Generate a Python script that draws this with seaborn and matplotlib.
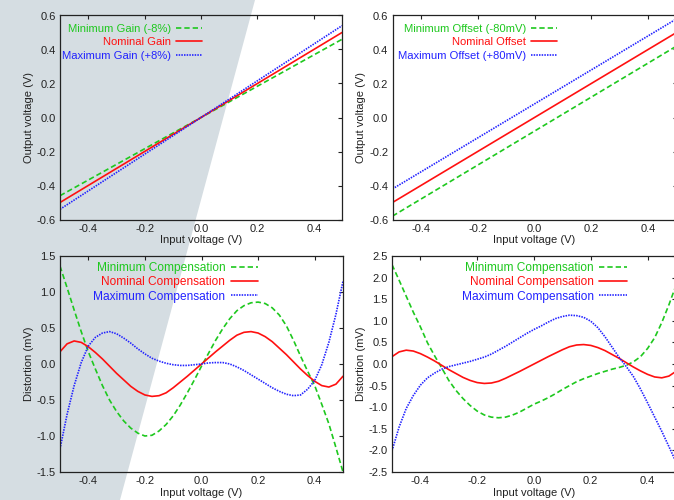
import numpy as np
import pandas as pd
import seaborn as sns
import matplotlib.pyplot as plt
from matplotlib.patches import Polygon

# --- dados ---
# paineis de cima: retas (entrada x saida)
x_lin = [-0.5, 0.5]
gain_min = [-0.46, 0.46]
gain_nom = [-0.50, 0.50]
gain_max = [-0.54, 0.54]
offset_min = [-0.58, 0.42]
offset_nom = [-0.50, 0.50]
offset_max = [-0.42, 0.58]

# paineis de baixo: distorcao (mV), amostras a cada 0.025 V
x_dist = np.round(np.arange(-0.5, 0.5001, 0.025), 3)

comp_nom = [0.17, 0.28, 0.32, 0.30, 0.24, 0.16, 0.07, -0.03, -0.13, -0.22,
            -0.31, -0.38, -0.43, -0.45, -0.44, -0.40, -0.33, -0.25, -0.17, -0.085,
            0.0,
            0.085, 0.17, 0.25, 0.33, 0.40, 0.44, 0.45, 0.43, 0.38, 0.31,
            0.22, 0.13, 0.03, -0.07, -0.16, -0.24, -0.30, -0.32, -0.28, -0.17]

# painel inferior esquerdo
left_min = [1.36, 1.06, 0.75, 0.45, 0.17, -0.07, -0.30, -0.50, -0.66, -0.79,
            -0.89, -0.96, -1.00, -0.99, -0.93, -0.84, -0.72, -0.57, -0.40, -0.22,
            -0.03,
            0.15, 0.33, 0.49, 0.63, 0.74, 0.81, 0.85, 0.86, 0.84, 0.78,
            0.68, 0.53, 0.33, 0.11, -0.10, -0.30, -0.56, -0.83, -1.16, -1.50]
left_max = [-1.18, -0.70, -0.30, 0.02, 0.25, 0.37, 0.43, 0.45, 0.42, 0.36,
            0.29, 0.21, 0.14, 0.08, 0.04, 0.01, -0.01, -0.02, -0.02, -0.01,
            0.0,
            0.015, 0.02, 0.02, 0.0, -0.04, -0.09, -0.15, -0.21, -0.27, -0.33,
            -0.38, -0.42, -0.44, -0.43, -0.35, -0.23, -0.01, 0.30, 0.69, 1.15]

# painel inferior direito
right_min = [2.30, 1.94, 1.57, 1.20, 0.86, 0.49, 0.19, -0.09, -0.38, -0.61,
             -0.80, -0.96, -1.09, -1.18, -1.23, -1.245, -1.23, -1.18, -1.11, -1.02,
             -0.93,
             -0.86, -0.78, -0.69, -0.59, -0.50, -0.41, -0.34, -0.28, -0.22, -0.17,
             -0.12, -0.08, -0.03, 0.05, 0.17, 0.36, 0.61, 0.96, 1.37, 1.82]
right_max = [-2.01, -1.46, -1.03, -0.73, -0.49, -0.32, -0.21, -0.12, -0.06, -0.02,
             0.02, 0.06, 0.11, 0.16, 0.23, 0.32, 0.41, 0.51, 0.61, 0.71,
             0.80,
             0.88, 0.97, 1.05, 1.10, 1.13, 1.12, 1.08, 0.99, 0.84, 0.63,
             0.39, 0.15, -0.06, -0.29, -0.58, -0.90, -1.23, -1.56, -1.91, -2.27]

verde = '#1ec81e'
vermelho = '#ff1010'
azul = '#2222ff'
tracejado = (0, (3.2, 1.8))
pontilhado = (0, (0.9, 0.7))

sns.set_style('white')
plt.rcParams['font.family'] = ['Liberation Sans', 'DejaVu Sans']
plt.rcParams['axes.unicode_minus'] = False
plt.rcParams['font.size'] = 8

fig = plt.figure(figsize=(6.74, 5.0), dpi=100)

# faixa cinza do fundo (elemento decorativo da figura)
fig.add_artist(Polygon([(0, 1), (255 / 674, 1), (120 / 674, 0), (0, 0)],
                       closed=True, transform=fig.transFigure,
                       facecolor='#d5dde2', edgecolor='none', zorder=-5))

ax_g = fig.add_axes([60 / 674, 0.561, 282 / 674, 0.408])
ax_o = fig.add_axes([392.5 / 674, 0.561, 284 / 674, 0.408])
ax_l = fig.add_axes([60 / 674, 0.056, 283 / 674, 0.432])
ax_r = fig.add_axes([392 / 674, 0.056, 284 / 674, 0.432])


def desenha(ax, x, y_min, y_nom, y_max, rotulos):
    sns.lineplot(x=x, y=y_min, ax=ax, color=verde, linestyle=tracejado, lw=1.2, label=rotulos[0])
    sns.lineplot(x=x, y=y_nom, ax=ax, color=vermelho, linestyle='-', lw=1.2, label=rotulos[1])
    sns.lineplot(x=x, y=y_max, ax=ax, color=azul, linestyle=pontilhado, lw=1.2, label=rotulos[2])


desenha(ax_g, x_lin, gain_min, gain_nom, gain_max,
        ['Minimum Gain (-8%)', 'Nominal Gain', 'Maximum Gain (+8%)'])
desenha(ax_o, x_lin, offset_min, offset_nom, offset_max,
        ['Minimum Offset (-80mV)', 'Nominal Offset', 'Maximum Offset (+80mV)'])
desenha(ax_l, x_dist, left_min, comp_nom, left_max,
        ['Minimum Compensation', 'Nominal Compensation', 'Maximum Compensation'])
desenha(ax_r, x_dist, right_min, comp_nom, right_max,
        ['Minimum Compensation', 'Nominal Compensation', 'Maximum Compensation'])

# eixo, limite y, passo y, rotulo y, posicao da legenda, fonte e espaco da legenda
config = [
    (ax_g, 0.6, 0.2, 'Output voltage (V)', 0.503, 0.960, 8.1, 0.33),
    (ax_o, 0.6, 0.2, 'Output voltage (V)', 0.579, 0.960, 8.1, 0.33),
    (ax_l, 1.5, 0.5, 'Distortion (mV)', 0.70, 0.973, 8.6, 0.2),
    (ax_r, 2.5, 0.5, 'Distortion (mV)', 0.827, 0.973, 8.6, 0.2),
]

for ax, ylim, ystep, ylabel, lx, ly, fs, esp in config:
    ax.set_facecolor('none')
    ax.set_xlim(-0.5, 0.5)
    ax.set_ylim(-ylim, ylim)
    ax.set_xticks([-0.4, -0.2, 0.0, 0.2, 0.4])
    ax.set_yticks(np.round(np.arange(-ylim, ylim + ystep / 2, ystep), 2))
    ax.tick_params(direction='in', length=3, width=0.8, top=True, right=True,
                   labelsize=8, labelcolor='#222222', color='#222222', pad=3)
    for s in ax.spines.values():
        s.set_visible(True)
        s.set_color('#222222')
        s.set_linewidth(0.9)
    ax.set_xlabel('Input voltage (V)', fontsize=8, color='#222222', labelpad=1)
    ax.set_ylabel(ylabel, fontsize=8, color='#222222', labelpad=2)
    ax.legend(loc='upper right', bbox_to_anchor=(lx, ly), frameon=False,
              markerfirst=False, labelcolor='linecolor', fontsize=fs,
              handlelength=2.3, handletextpad=0.45, labelspacing=esp,
              borderpad=0, borderaxespad=0)

fig.savefig('out.png', dpi=100)
